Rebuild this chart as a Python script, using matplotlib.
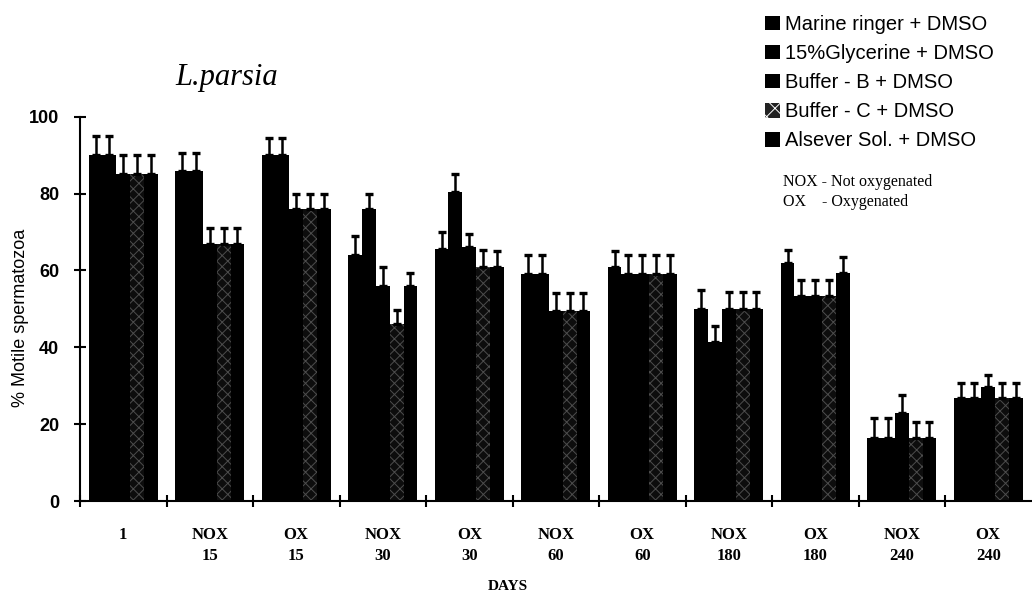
import numpy as np
import matplotlib
matplotlib.use("Agg")
import matplotlib.pyplot as plt
import matplotlib.patches as mpatches

# groups on the x axis (line 1 / line 2)
day_labels = ["1", "NOX\n15", "OX\n15", "NOX\n30", "OX\n30", "NOX\n60",
              "OX\n60", "NOX\n180", "OX\n180", "NOX\n240", "OX\n240"]

series_names = ["Marine ringer + DMSO", "15%Glycerine + DMSO", "Buffer - B + DMSO",
                "Buffer - C + DMSO", "Alsever Sol. + DMSO"]

# % motile spermatozoa per series
marine = [90, 86, 90, 64, 65.5, 59, 61, 50, 62, 16.5, 26.7]
glycerine = [90, 86, 90, 76, 80.5, 59, 59, 41.5, 53.3, 16.5, 26.7]
buffer_b = [85, 67, 76, 56, 66, 49.5, 59, 50, 53.3, 22.8, 29.7]
buffer_c = [85, 67, 76, 46, 61, 49.5, 59, 50, 53.3, 16.5, 26.7]
alsever = [85, 67, 76, 56, 61, 49.5, 59, 50, 59.3, 16.5, 26.7]

# upper error (SD)
marine_err = [5, 4.5, 4.4, 4.9, 4.4, 5, 4, 5, 3.4, 5, 4.1]
glycerine_err = [5, 4.5, 4.4, 4, 4.5, 5, 5, 4.1, 4.3, 5, 4.1]
buffer_b_err = [5, 4, 3.8, 5, 3.6, 4.5, 5, 4.4, 4.3, 4.7, 3.2]
buffer_c_err = [5, 4, 3.8, 3.6, 4.3, 4.5, 5, 4.4, 4.3, 4.1, 4.1]
alsever_err = [5, 4, 3.8, 3.2, 4, 4.5, 5, 4.4, 4.2, 4.1, 4.1]

values = [marine, glycerine, buffer_b, buffer_c, alsever]
errors = [marine_err, glycerine_err, buffer_b_err, buffer_c_err, alsever_err]

sans = ["Liberation Sans", "DejaVu Sans"]
serif = ["Liberation Serif", "DejaVu Serif"]
plt.rcParams["hatch.linewidth"] = 0.7

fig = plt.figure(figsize=(10.32, 5.95), dpi=100)
ax = fig.add_axes([80 / 1032, 1 - 501 / 595, 951.5 / 1032, 384.3 / 595])

x = np.arange(len(day_labels))
w = 0.16
for i, (vals, errs) in enumerate(zip(values, errors)):
    pos = x + (i - 2) * w
    if i == 3:
        # speckled cross pattern, mostly dark as in the scan
        ax.bar(pos, vals, width=w, color="#0d0d0d", edgecolor="#4d4d4d",
               hatch="xxx", linewidth=0)
    else:
        ax.bar(pos, vals, width=w, color="black", linewidth=0)
    ax.errorbar(pos, vals, yerr=[np.zeros(len(vals)), errs], fmt="none",
                ecolor="black", elinewidth=1.8, capsize=2.8, capthick=2.4,
                clip_on=False)

ax.set_xlim(-0.5, len(day_labels) - 0.5)
ax.set_ylim(0, 100)
for s in ["top", "right"]:
    ax.spines[s].set_visible(False)
ax.spines["left"].set_linewidth(1.5)
ax.spines["bottom"].set_linewidth(1.5)

ax.set_yticks([0, 20, 40, 60, 80, 100])
ax.tick_params(axis="y", direction="inout", length=8, width=1.5, pad=11)
for t in ax.get_yticklabels():
    t.set_fontfamily(sans)
    t.set_fontweight("bold")
    t.set_fontsize(13)

ax.set_xticks(x)
ax.set_xticklabels(day_labels, fontfamily=serif, fontweight="bold", fontsize=12,
                   linespacing=1.35)
ax.tick_params(axis="x", which="major", length=0, pad=19)
ax.set_xticks(np.arange(-0.5, len(day_labels) - 0.5, 1), minor=True)
ax.tick_params(axis="x", which="minor", direction="inout", length=8, width=1.5)

fig.text(21 / 1032, 1 - 318 / 595, "% Motile spermatozoa", rotation=90,
         ha="center", va="center", fontfamily=sans, fontsize=13)
fig.text(508 / 1032, 1 - 587 / 595, "DAYS", ha="center", va="center",
         fontfamily=serif, fontweight="bold", fontsize=11)

fig.text(227 / 1032, 1 - 77 / 595, "L.parsia", ha="center", va="center",
         fontfamily=serif, fontstyle="italic", fontsize=22)

handles = []
for i, name in enumerate(series_names):
    if i == 3:
        handles.append(mpatches.Patch(facecolor="#222222", edgecolor="white",
                                      hatch="xx", linewidth=0, label=name))
    else:
        handles.append(mpatches.Patch(facecolor="black", linewidth=0, label=name))
fig.legend(handles=handles, loc="upper left", bbox_to_anchor=(765 / 1032, 1 - 15 / 595),
           frameon=False, handlelength=0.75, handleheight=0.75, handletextpad=0.25,
           labelspacing=0.5, borderpad=0, borderaxespad=0,
           prop={"family": sans, "size": 14.5})

fig.text(783 / 1032, 1 - 182 / 595, "NOX - Not oxygenated", ha="left", va="center",
         fontfamily=serif, fontsize=11.5)
fig.text(783 / 1032, 1 - 202 / 595, "OX    - Oxygenated", ha="left", va="center",
         fontfamily=serif, fontsize=11.5)

fig.savefig("out.png", dpi=100)
